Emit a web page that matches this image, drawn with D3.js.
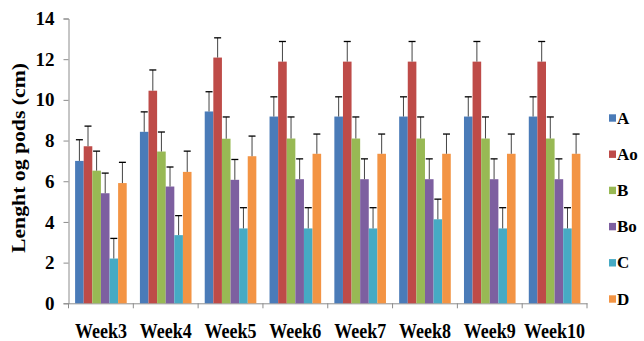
<!DOCTYPE html>
<html>
<head>
<meta charset="utf-8">
<script src="https://cdn.jsdelivr.net/npm/d3@7"></script>
<style>
  html, body { margin: 0; padding: 0; background: #fff; }
  svg { display: block; }
  svg text { font-family: "Liberation Serif", "Times New Roman", Times, serif; font-weight: bold; }
</style>
</head>
<body>
<svg id="chart" width="644" height="341"></svg>
<script>
const categories = ["Week3", "Week4", "Week5", "Week6", "Week7", "Week8", "Week9", "Week10"];
const seriesNames = ["A", "Ao", "B", "Bo", "C", "D"];
const valuesA  = [7.0, 8.43, 9.43, 9.18, 9.18, 9.18, 9.18, 9.18];
const valuesAo = [7.72, 10.45, 12.08, 11.88, 11.88, 11.88, 11.88, 11.88];
const valuesB  = [6.52, 7.46, 8.09, 8.1, 8.1, 8.1, 8.1, 8.1];
const valuesBo = [5.41, 5.74, 6.07, 6.1, 6.1, 6.1, 6.1, 6.1];
const valuesC  = [2.2, 3.35, 3.68, 3.68, 3.68, 4.13, 3.68, 3.68];
const valuesD  = [5.91, 6.46, 7.23, 7.35, 7.35, 7.35, 7.35, 7.35];
const errA  = [1.04, 0.98, 0.97, 0.97, 0.97, 0.97, 0.97, 0.97];
const errAo = [0.99, 1.02, 0.97, 0.99, 0.99, 0.99, 0.99, 0.99];
const errB  = [0.96, 0.96, 1.07, 1.06, 1.06, 1.06, 1.06, 1.06];
const errBo = [0.99, 0.96, 1.0, 1.0, 1.0, 1.0, 1.0, 1.0];
const errC  = [0.99, 0.96, 1.02, 1.02, 1.02, 0.99, 1.02, 1.02];
const errD  = [1.02, 1.02, 0.99, 0.97, 0.97, 0.97, 0.97, 0.97];
const yTicks = [0, 2, 4, 6, 8, 10, 12, 14];
const colors = ["#4A7BB8", "#BE4B48", "#98B954", "#7D5FA0", "#46AAC4", "#F39444"];

const values = [valuesA, valuesAo, valuesB, valuesBo, valuesC, valuesD];
const errs = [errA, errAo, errB, errBo, errC, errD];

const svg = d3.select("#chart");
const mLeft = 68.5, mRight = 587, mTop = 18.5, mBottom = 303.3;

const x0 = d3.scaleBand().domain(categories).range([mLeft, mRight]).padding(0);
const inner = 6.6;
const x1 = d3.scaleBand().domain(seriesNames).range([inner, x0.bandwidth() - inner]).padding(0);
const y = d3.scaleLinear().domain([0, 14]).range([mBottom, mTop]);
const color = d3.scaleOrdinal().domain(seriesNames).range(colors);

// y axis
const yAxis = svg.append("g").attr("transform", `translate(${mLeft},0)`)
  .call(d3.axisLeft(y).tickValues(yTicks).tickSize(5).tickPadding(9).tickFormat(d3.format("d")));
yAxis.attr("font-family", null).attr("font-size", null);
yAxis.select(".domain").attr("stroke", "#8c8c8c");
yAxis.selectAll(".tick line").attr("stroke", "#8c8c8c");
yAxis.selectAll(".tick text")
  .attr("font-size", 19).attr("fill", "#000");

// x axis
const xAxis = svg.append("g").attr("transform", `translate(0,${mBottom})`)
  .call(d3.axisBottom(x0).tickSize(0).tickFormat(""));
xAxis.select(".domain").attr("stroke", "#8c8c8c");
xAxis.selectAll(".tick").remove();
// category boundary ticks
const bounds = categories.map(c => x0(c)).concat([mRight]);
svg.append("g").selectAll("line").data(bounds).join("line")
  .attr("x1", d => d).attr("x2", d => d)
  .attr("y1", mBottom).attr("y2", mBottom + 5)
  .attr("stroke", "#8c8c8c");
// category labels
svg.append("g").selectAll("text").data(categories).join("text")
  .attr("transform", d => `translate(${x0(d) + x0.bandwidth() / 2},337.5) scale(1,1.2)`)
  .attr("text-anchor", "middle")
  .attr("font-size", 18)
  .attr("fill", "#000")
  .text(d => d);

// bars
const data = [];
categories.forEach((c, i) => {
  seriesNames.forEach((s, j) => {
    data.push({ cat: c, s: s, v: values[j][i], e: errs[j][i] });
  });
});
const groups = svg.append("g");
groups.selectAll("rect").data(data).join("rect")
  .attr("x", d => x0(d.cat) + x1(d.s))
  .attr("y", d => y(d.v))
  .attr("width", x1.bandwidth())
  .attr("height", d => y(0) - y(d.v))
  .attr("fill", d => color(d.s));

// error bars (plus direction)
const eb = svg.append("g");
eb.selectAll("line.stem").data(data).join("line").attr("class", "stem")
  .attr("x1", d => x0(d.cat) + x1(d.s) + x1.bandwidth() / 2)
  .attr("x2", d => x0(d.cat) + x1(d.s) + x1.bandwidth() / 2)
  .attr("y1", d => y(d.v))
  .attr("y2", d => y(d.v + d.e))
  .attr("stroke", "#444").attr("stroke-width", 1);
eb.selectAll("line.cap").data(data).join("line").attr("class", "cap")
  .attr("x1", d => x0(d.cat) + x1(d.s) + x1.bandwidth() / 2 - 3.5)
  .attr("x2", d => x0(d.cat) + x1(d.s) + x1.bandwidth() / 2 + 3.5)
  .attr("y1", d => y(d.v + d.e))
  .attr("y2", d => y(d.v + d.e))
  .attr("stroke", "#000").attr("stroke-width", 1.3);

// y axis title
svg.append("text")
  .attr("transform", `translate(25,158) rotate(-90)`)
  .attr("text-anchor", "middle")
  .attr("font-size", 18)
  .attr("textLength", 190).attr("lengthAdjust", "spacingAndGlyphs")
  .attr("fill", "#000")
  .text("Lenght og pods (cm)");

// legend
const legend = svg.append("g");
const ly = d3.scalePoint().domain(seriesNames).range([118, 299]);
const li = legend.selectAll("g").data(seriesNames).join("g")
  .attr("transform", d => `translate(609,${ly(d)})`);
li.append("rect").attr("x", 0).attr("y", -3.7).attr("width", 7).attr("height", 7.4)
  .attr("fill", d => color(d));
li.append("text").attr("x", 8).attr("y", 5.5)
  .attr("font-size", 17)
  .attr("fill", "#000")
  .text(d => d);
</script>
</body>
</html>
